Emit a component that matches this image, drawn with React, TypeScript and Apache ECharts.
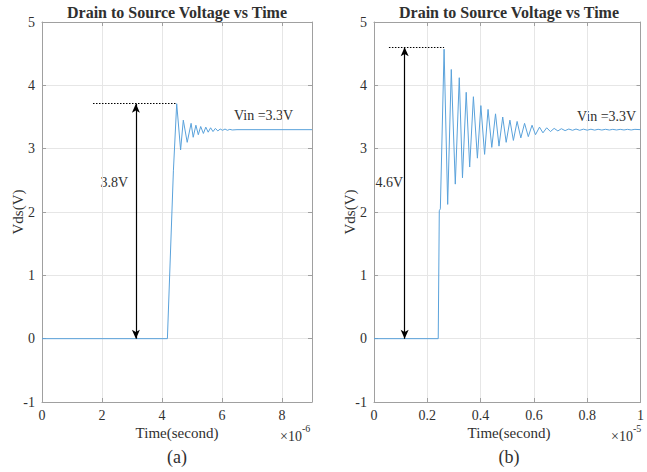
import React, { useEffect, useRef } from "react";
import * as echarts from "echarts";

// Panel (a): time in units of 1e-6 s
const leftTime = [0, 4.18, 4.38, 4.49, 4.62, 4.71, 4.84, 4.97, 5.04, 5.13, 5.21, 5.29, 5.38, 5.46, 5.54, 5.62, 5.7, 5.78, 5.86, 5.94, 6.02, 6.1, 6.18, 6.26, 6.34, 6.5, 9];
const leftVds = [0, 0, 2.65, 3.71, 2.98, 3.45, 3.1, 3.4, 3.18, 3.37, 3.22, 3.35, 3.24, 3.34, 3.26, 3.33, 3.27, 3.32, 3.28, 3.31, 3.29, 3.31, 3.29, 3.305, 3.295, 3.3, 3.3];

// Panel (b): time in units of 1e-5 s
const rightTime = [0, 0.241, 0.245, 0.249, 0.263, 0.2765, 0.29, 0.305, 0.32, 0.332, 0.346, 0.359, 0.373, 0.388, 0.401, 0.415, 0.428, 0.442, 0.456, 0.469, 0.483, 0.496, 0.51, 0.523, 0.537, 0.551, 0.565, 0.579, 0.593, 0.606, 0.621, 0.634, 0.648, 0.662, 0.676, 0.69, 0.703, 0.717, 0.731, 0.745, 0.758, 0.772, 0.786, 0.8, 0.814, 0.828, 0.841, 0.855, 0.869, 0.883, 0.896, 0.91, 0.924, 0.938, 0.951, 0.965, 0.979, 1.0];
const rightVds = [0, 0, 2.02, 2.05, 4.57, 2.12, 4.25, 2.44, 4.12, 2.54, 3.89, 2.71, 3.82, 2.85, 3.68, 2.91, 3.62, 3.02, 3.55, 3.04, 3.5, 3.1, 3.45, 3.13, 3.43, 3.17, 3.4, 3.19, 3.37, 3.22, 3.34, 3.25, 3.33, 3.27, 3.32, 3.28, 3.315, 3.285, 3.31, 3.29, 3.31, 3.29, 3.308, 3.292, 3.307, 3.293, 3.306, 3.294, 3.306, 3.294, 3.305, 3.295, 3.305, 3.295, 3.305, 3.295, 3.305, 3.3];

// Annotations (data coordinates)
const leftPeak = { x: 4.49, y: 3.71, arrowX: 3.13, dotStart: 1.7, label: "3.8V" };
const rightPeak = { x: 0.263, y: 4.6, arrowX: 0.115, dotStart: 0.056, label: "4.6V" };

const titleText = "Drain to Source Voltage vs Time";
const yTicks = { min: -1, max: 5, interval: 1 };

const FONT = "Liberation Serif";
const LINE_COLOR = "#5aa2db";
const AXIS_COLOR = "#a0a0a0";
const GRID_COLOR = "#e6e6e6";
const TEXT_COLOR = "#303030";

export default function App() {
  const ref = useRef<HTMLDivElement>(null);

  useEffect(() => {
    if (!ref.current) return;
    const chart = echarts.init(ref.current, undefined, { renderer: "svg" });

    const grids = [
      { left: 42, top: 22, width: 270, height: 380 },
      { left: 374, top: 22, width: 270, height: 380 },
    ];

    const xSpecs = [
      { min: 0, max: 9, interval: 2, fmt: (v: number) => String(v) },
      { min: 0, max: 1, interval: 0.2, fmt: (v: number) => String(Math.round(v * 10) / 10) },
    ];

    const tickStyle = { show: true, inside: true, length: 4, lineStyle: { color: AXIS_COLOR } };
    const lineStyleAxis = { show: true, onZero: false, lineStyle: { color: AXIS_COLOR, width: 1 } };

    const xAxes: any[] = [];
    const yAxes: any[] = [];
    grids.forEach((_, i) => {
      const xs = xSpecs[i];
      xAxes.push({
        type: "value",
        gridIndex: i,
        position: "bottom",
        min: xs.min,
        max: xs.max,
        interval: xs.interval,
        axisLine: lineStyleAxis,
        axisTick: tickStyle,
        axisLabel: {
          show: true,
          margin: 6,
          fontFamily: FONT,
          fontSize: 14,
          color: TEXT_COLOR,
          formatter: xs.fmt,
          showMaxLabel: i === 1,
        },
        splitLine: { show: true, lineStyle: { color: GRID_COLOR, width: 1 } },
      });
      xAxes.push({
        type: "value",
        gridIndex: i,
        position: "top",
        min: xs.min,
        max: xs.max,
        interval: xs.interval,
        axisLine: lineStyleAxis,
        axisTick: tickStyle,
        axisLabel: { show: false },
        splitLine: { show: false },
      });
      yAxes.push({
        type: "value",
        gridIndex: i,
        position: "left",
        min: yTicks.min,
        max: yTicks.max,
        interval: yTicks.interval,
        axisLine: lineStyleAxis,
        axisTick: tickStyle,
        axisLabel: { show: true, margin: 7, fontFamily: FONT, fontSize: 14, color: TEXT_COLOR },
        splitLine: { show: true, lineStyle: { color: GRID_COLOR, width: 1 } },
      });
      yAxes.push({
        type: "value",
        gridIndex: i,
        position: "right",
        min: yTicks.min,
        max: yTicks.max,
        interval: yTicks.interval,
        axisLine: lineStyleAxis,
        axisTick: tickStyle,
        axisLabel: { show: false },
        splitLine: { show: false },
      });
    });

    const makeSeries = (i: number, t: number[], v: number[], peak: any) => ({
      type: "line",
      xAxisIndex: i * 2,
      yAxisIndex: i * 2,
      data: t.map((x, k) => [x, v[k]]),
      showSymbol: false,
      symbol: "none",
      lineStyle: { color: LINE_COLOR, width: 1 },
      z: 3,
      markLine: {
        silent: true,
        symbol: ["arrow", "arrow"],
        symbolSize: [6, 9],
        label: { show: false },
        data: [
          [
            { coord: [peak.arrowX, 0], symbol: "arrow", lineStyle: { color: "#000", width: 1.2, type: "solid" } },
            { coord: [peak.arrowX, peak.y], symbol: "arrow" },
          ],
          [
            { coord: [peak.dotStart, peak.y], symbol: "none", lineStyle: { color: "#000", width: 1, type: [1.5, 1.5] } },
            { coord: [peak.x, peak.y], symbol: "none" },
          ],
        ],
      },
    });

    const txt = (x: number, y: number, text: string, size: number, extra: any = {}) => ({
      type: "text",
      x,
      y,
      style: {
        text,
        fill: TEXT_COLOR,
        fontFamily: FONT,
        fontSize: size,
        fontWeight: extra.bold ? "bold" : "normal",
        textAlign: extra.align || "center",
        textVerticalAlign: "middle",
      },
      rotation: extra.rotation || 0,
    });

    const graphic: any[] = [
      txt(177, 12, titleText, 16, { bold: true }),
      txt(509, 12, titleText, 16, { bold: true }),
      txt(18, 212, "Vds(V)", 15, { rotation: Math.PI / 2 }),
      txt(350, 212, "Vds(V)", 15, { rotation: Math.PI / 2 }),
      txt(177, 433, "Time(second)", 15),
      txt(509, 433, "Time(second)", 15),
      txt(177, 457, "(a)", 18),
      txt(509, 457, "(b)", 18),
      txt(302, 436, "\u00d710", 14, { align: "right" }),
      txt(302, 428, "-6", 10, { align: "left" }),
      txt(633, 436, "\u00d710", 14, { align: "right" }),
      txt(633, 428, "-5", 10, { align: "left" }),
      txt(128, 182, leftPeak.label, 14, { align: "right" }),
      txt(403, 182, rightPeak.label, 14, { align: "right" }),
      txt(234, 115, "Vin =3.3V", 14, { align: "left" }),
      txt(577, 116, "Vin =3.3V", 14, { align: "left" }),
    ];

    chart.setOption({
      animation: false,
      backgroundColor: "#ffffff",
      grid: grids,
      xAxis: xAxes,
      yAxis: yAxes,
      series: [
        makeSeries(0, leftTime, leftVds, leftPeak),
        makeSeries(1, rightTime, rightVds, rightPeak),
      ],
      graphic,
    });

    return () => chart.dispose();
  }, []);

  return (
    <div
      ref={ref}
      style={{ position: "fixed", left: 0, top: 0, width: 647, height: 472, background: "#fff" }}
    />
  );
}
